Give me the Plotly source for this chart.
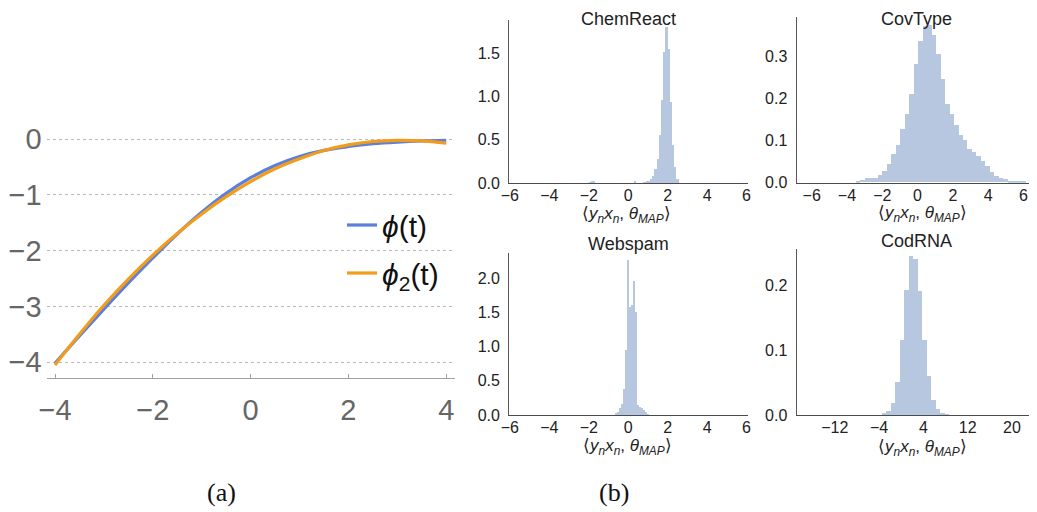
import numpy as np
import plotly.graph_objects as go

# the page places the figure 8 px in from the top-left corner of the 1037x512 window
PAGE_W, PAGE_H, OFF = 1037, 512, 8
FW, FH = PAGE_W - OFF, PAGE_H - OFF

# ---------------- data: panel (a) ----------------
t_vals = [-4.0, -3.5, -3.0, -2.5, -2.0, -1.5, -1.0, -0.5, 0.0, 0.5, 1.0, 1.5, 2.0, 2.5, 3.0, 3.5, 4.0]
phi_vals = [-4.02, -3.53, -3.05, -2.58, -2.13, -1.70, -1.31, -0.97, -0.69, -0.47, -0.31, -0.20, -0.13, -0.08, -0.05, -0.03, -0.02]
phi2_vals = [-4.05, -3.50, -2.98, -2.51, -2.08, -1.69, -1.34, -1.03, -0.76, -0.53, -0.35, -0.20, -0.10, -0.04, -0.02, -0.03, -0.07]

# ---------------- data: panel (b) histograms ----------------
chem_bin_start = 0.79
chem_bin_width = 0.111
chem_density = [0.004, 0.015, 0.027, 0.05, 0.085, 0.16, 0.28, 0.56, 0.96, 1.51, 1.80, 1.55, 0.94, 0.44, 0.18, 0.05]
chem_tail_x = [-1.93, -1.82, -1.71, 0.35]
chem_tail_y = [0.010, 0.025, 0.012, 0.015]

cov_bin_start = -3.53
cov_bin_width = 0.2537
cov_density = [0.0024, 0.0055, 0.011, 0.011, 0.011, 0.018, 0.028, 0.044, 0.068, 0.089, 0.127, 0.163,
               0.210, 0.281, 0.336, 0.371, 0.374, 0.350, 0.304, 0.245, 0.186, 0.163, 0.137, 0.113,
               0.101, 0.080, 0.072, 0.063, 0.051, 0.038, 0.024, 0.016, 0.011, 0.007, 0.004, 0.003,
               0.0015, 0.001]

web_bin_start = -0.62
web_bin_width = 0.1
web_density = [0.03, 0.05, 0.10, 0.16, 0.39, 0.95, 2.27, 1.59, 1.61, 1.96, 1.51, 0.146, 0.122, 0.10, 0.073, 0.044, 0.02]

cod_bin_start = -3.52
cod_bin_width = 0.807
cod_density = [0.0026, 0.0056, 0.018, 0.050, 0.115, 0.192, 0.244, 0.240, 0.191, 0.115, 0.059, 0.023, 0.0092, 0.003, 0.001]

hist_titles = ["ChemReact", "CovType", "Webspam", "CodRNA"]
sym_ticks = [-6, -4, -2, 0, 2, 4, 6]
cod_ticks = [-12, -4, 4, 12, 20]


def centers(start, width, n):
    return start + width * (np.arange(n) + 0.5)


def px_x(p):
    return (p - OFF) / FW


def px_y(p):
    return 1 - (p - OFF) / FH


BAR = "rgb(183,199,223)"
BLUE = "#5b80dc"
ORANGE = "#f39c1c"
SANS = "Liberation Sans"

fig = go.Figure()

# panel (a)
fig.add_trace(go.Scatter(x=t_vals, y=phi_vals, mode="lines", line=dict(color=BLUE, width=3.2, shape="spline"),
                         name="<i>ϕ</i>(t)", legend="legend", xaxis="x", yaxis="y"))
fig.add_trace(go.Scatter(x=t_vals, y=phi2_vals, mode="lines", line=dict(color=ORANGE, width=3.2, shape="spline"),
                         name="<i>ϕ</i><sub>2</sub>(t)", legend="legend2", xaxis="x", yaxis="y"))

# panel (b)
fig.add_trace(go.Bar(x=list(centers(chem_bin_start, chem_bin_width, len(chem_density))) + chem_tail_x,
                     y=chem_density + chem_tail_y, width=chem_bin_width, marker=dict(color=BAR, line=dict(width=0)),
                     showlegend=False, xaxis="x2", yaxis="y2"))
fig.add_trace(go.Bar(x=centers(cov_bin_start, cov_bin_width, len(cov_density)), y=cov_density,
                     width=cov_bin_width, marker=dict(color=BAR, line=dict(width=0)),
                     showlegend=False, xaxis="x3", yaxis="y3"))
fig.add_trace(go.Bar(x=centers(web_bin_start, web_bin_width, len(web_density)), y=web_density,
                     width=web_bin_width, marker=dict(color=BAR, line=dict(width=0)),
                     showlegend=False, xaxis="x4", yaxis="y4"))
fig.add_trace(go.Bar(x=centers(cod_bin_start, cod_bin_width, len(cod_density)), y=cod_density,
                     width=cod_bin_width, marker=dict(color=BAR, line=dict(width=0)),
                     showlegend=False, xaxis="x5", yaxis="y5"))

left_col = [509.3, 747.7]
right_col = [796.7, 1037]

hx = dict(showline=True, linecolor="#4a4a4a", linewidth=1.3, showgrid=False, zeroline=False, ticks="", ticklen=0,
          tickfont=dict(family=SANS, size=16, color="#222"), ticklabelstandoff=-2, automargin=False)
hy = dict(showline=True, linecolor="#5a5a5a", linewidth=1.3, showgrid=False, zeroline=False, ticks="", ticklen=0,
          tickfont=dict(family=SANS, size=16, color="#222"), tickformat=".1f", ticklabelstandoff=5, automargin=False)

fig.update_layout(
    width=FW, height=FH, margin=dict(l=0, r=0, t=0, b=0, autoexpand=False),
    paper_bgcolor="white", plot_bgcolor="white", bargap=0,
    xaxis=dict(domain=[px_x(46.7), px_x(455)], range=[-4.17, 4.18], tickvals=[-4, -2, 0, 2, 4],
               showline=True, linecolor="#a0a0a0", linewidth=1.2, showgrid=False, zeroline=False,
               ticks="inside", ticklen=4, tickcolor="#a0a0a0", ticklabelstandoff=6, automargin=False,
               tickfont=dict(family=SANS, size=29, color="#666")),
    yaxis=dict(domain=[px_y(377.7), px_y(132.6)], range=[-4.28, 0.12], tickvals=[-4, -3, -2, -1, 0],
               showline=False, showgrid=True, gridcolor="#b8b8b8", griddash="dot", gridwidth=1, zeroline=False,
               ticks="", ticklen=0, ticklabelstandoff=4, automargin=False,
               tickfont=dict(family=SANS, size=29, color="#666")),
    xaxis2=dict(hx, domain=[px_x(left_col[0]), px_x(left_col[1])], range=[-6.03, 6.06], tickvals=sym_ticks, anchor="y2"),
    yaxis2=dict(hy, domain=[px_y(183), px_y(20)], range=[0, 1.884], tickvals=[0, 0.5, 1.0, 1.5], anchor="x2"),
    xaxis3=dict(hx, domain=[px_x(right_col[0]), px_x(right_col[1])], range=[-6.85, 6.77], tickvals=sym_ticks, anchor="y3"),
    yaxis3=dict(hy, domain=[px_y(182.7), px_y(17.3)], range=[0, 0.392], tickvals=[0, 0.1, 0.2, 0.3], anchor="x3"),
    xaxis4=dict(hx, domain=[px_x(left_col[0]), px_x(left_col[1])], range=[-6.03, 6.06], tickvals=sym_ticks, anchor="y4"),
    yaxis4=dict(hy, domain=[px_y(415), px_y(252.7)], range=[0, 2.376], tickvals=[0, 0.5, 1.0, 1.5, 2.0], anchor="x4"),
    xaxis5=dict(hx, domain=[px_x(right_col[0]), px_x(right_col[1])], range=[-18.88, 24.53], tickvals=cod_ticks, anchor="y5"),
    yaxis5=dict(hy, domain=[px_y(415), px_y(249.3)], range=[0, 0.255], tickvals=[0, 0.1, 0.2], anchor="x5"),
    legend=dict(x=px_x(342), y=px_y(225), xanchor="left", yanchor="middle", bgcolor="rgba(0,0,0,0)",
                font=dict(family=SANS, size=30, color="#111"), itemwidth=30),
    legend2=dict(x=px_x(342), y=px_y(273), xanchor="left", yanchor="middle", bgcolor="rgba(0,0,0,0)",
                 font=dict(family=SANS, size=30, color="#111"), itemwidth=30),
)

xlabel = "⟨<i>y<sub>n</sub>x<sub>n</sub></i>, <i>θ<sub>MAP</sub></i>⟩"
title_pos = [(628, 18.6), (916.7, 18.6), (628.3, 243.8), (916.7, 240.5)]
xlabel_pos = [(626, 215), (922.5, 214), (627, 447), (922.5, 447.5)]
for name, (tx, ty), (lx, ly) in zip(hist_titles, title_pos, xlabel_pos):
    fig.add_annotation(text=name, x=px_x(tx), y=px_y(ty), xref="paper", yref="paper", showarrow=False,
                       xanchor="center", yanchor="middle", font=dict(family=SANS, size=18, color="#222"))
    fig.add_annotation(text=xlabel, x=px_x(lx), y=px_y(ly), xref="paper", yref="paper", showarrow=False,
                       xanchor="center", yanchor="middle", font=dict(family=SANS, size=17, color="#222"))

for cap, cx in [("(a)", 221.5), ("(b)", 614)]:
    fig.add_annotation(text=cap, x=px_x(cx), y=px_y(492), xref="paper", yref="paper", showarrow=False,
                       xanchor="center", yanchor="middle",
                       font=dict(family="Liberation Serif", size=26, color="#111"))

fig.write_html("out.html")
